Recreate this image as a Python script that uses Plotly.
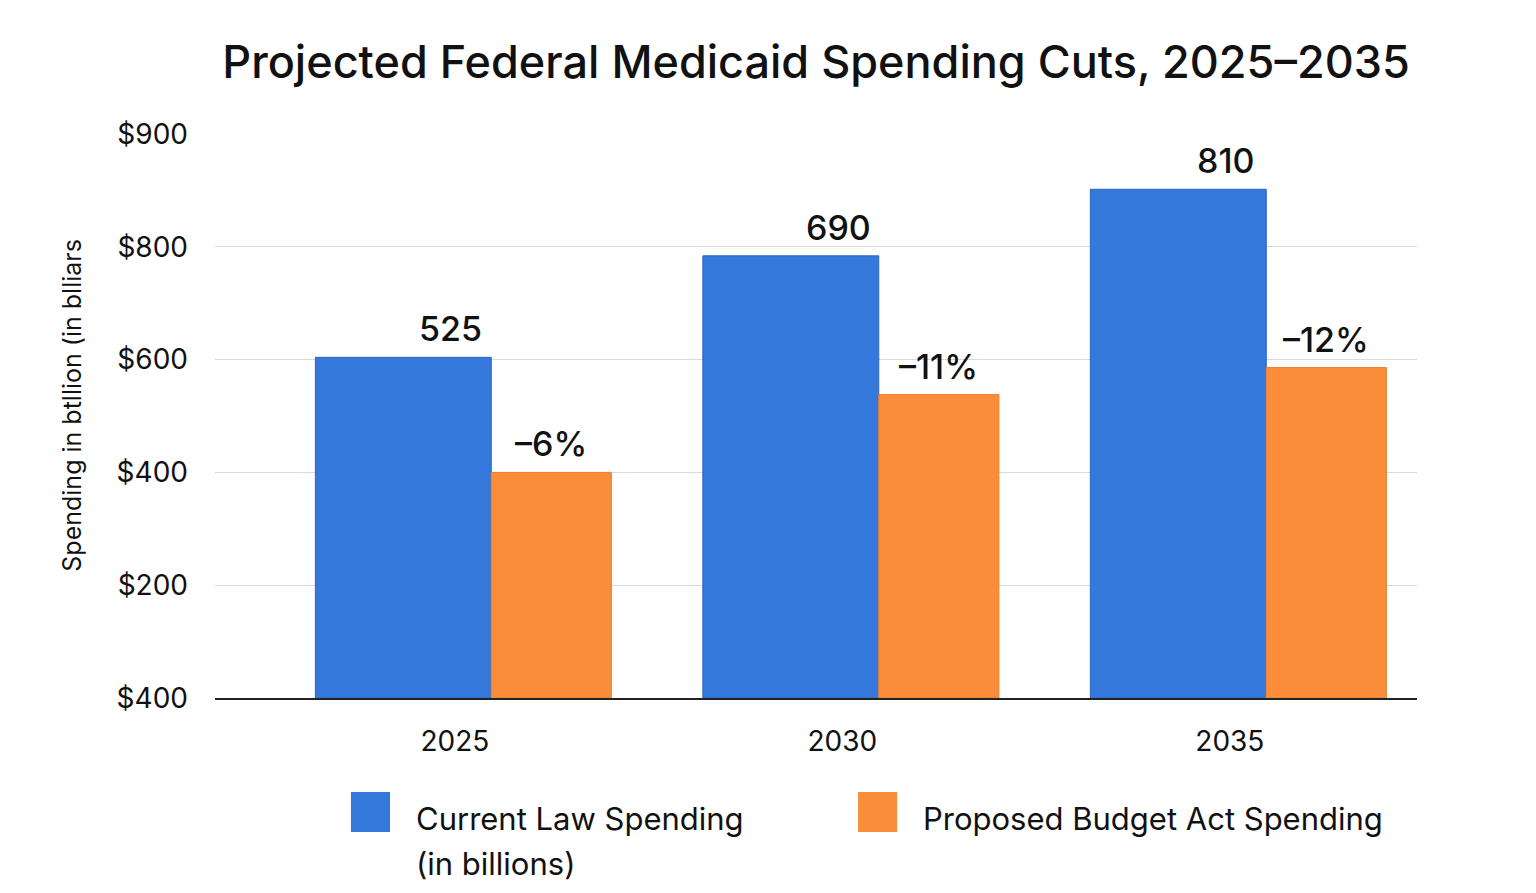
import plotly.graph_objects as go

# data (bar heights are read in the chart's own gridline units: one gridline = 100)
years = ["2025", "2030", "2035"]
current_law = [302, 392, 451]
proposed = [200, 269, 293]
current_labels = ["525", "690", "810"]
proposed_labels = ["\u20136%", "\u201311%", "\u201312%"]
tick_pos = [0, 100, 200, 300, 400, 500]
tick_text = ["$400", "$200", "$400", "$600", "$800", "$900"]

BLUE = "#3478DC"
ORANGE = "#F98D3A"
FONT = "Inter"
x = list(range(len(years)))

blue_off, blue_w = -0.36, 0.454
orange_off, orange_w = 0.094, 0.31

fig = go.Figure()
fig.add_trace(go.Bar(x=x, y=current_law, name="Current Law Spending (in billions)",
                     offset=blue_off, width=blue_w, marker_color=BLUE,
                     marker_line=dict(color="#2a66c4", width=1)))
fig.add_trace(go.Bar(x=x, y=proposed, name="Proposed Budget Act Spending",
                     offset=orange_off, width=orange_w, marker_color=ORANGE,
                     marker_line=dict(color="#ee8030", width=1)))

# value labels
for i in x:
    fig.add_annotation(x=i - 0.01, y=current_law[i], text=current_labels[i], showarrow=False,
                       yanchor="bottom", yshift=6,
                       font=dict(size=34, color="#111", family=FONT, weight=500))
    fig.add_annotation(x=i + orange_off + orange_w / 2, y=proposed[i], text=proposed_labels[i],
                       showarrow=False, yanchor="bottom", yshift=6,
                       font=dict(size=34, color="#111", family=FONT, weight=500))

# y axis title
fig.add_annotation(xref="paper", yref="paper", x=-0.119, y=0.52, xanchor="center", yanchor="middle",
                   text="Spending in btllion (in blliars", textangle=-90, showarrow=False,
                   font=dict(size=25, color="#111", family=FONT))

# legend drawn by hand (large swatches)
legend = [(0.1131, BLUE, 0.1656, ["Current Law Spending", "(in billions)"]),
          (0.535, ORANGE, 0.5874, ["Proposed Budget Act Spending"])]
for sx, col, tx, lines in legend:
    fig.add_shape(type="rect", xref="paper", yref="paper", x0=sx, x1=sx + 0.0325,
                  y0=-0.1667, y1=-0.2376, fillcolor=col, line=dict(width=0))
    for k, line in enumerate(lines):
        fig.add_annotation(xref="paper", yref="paper", x=tx, y=-0.2128 - k * 0.08, text=line,
                           xanchor="left", yanchor="middle", showarrow=False,
                           font=dict(size=31, color="#111", family=FONT))

fig.update_layout(
    width=1536, height=893,
    margin=dict(l=207, r=127, t=126, b=203),
    paper_bgcolor="white", plot_bgcolor="white",
    showlegend=False, barmode="overlay",
    title=dict(text="Projected Federal Medicaid Spending Cuts, 2025\u20132035", x=0.5, xref="paper",
               xanchor="center", y=1 - 54 / 893, yref="container", yanchor="middle",
               font=dict(size=45, color="#111", family=FONT, weight=500)),
    font=dict(family=FONT, color="#111"),
)
fig.update_xaxes(range=[-0.619, 2.483], tickvals=x, ticktext=years, showgrid=False,
                 showline=True, linecolor="#222", linewidth=2, ticks="",
                 ticklabelstandoff=17, tickfont=dict(size=28, color="#111"))
fig.update_yaxes(range=[0, 500], tickvals=tick_pos, ticktext=tick_text, showgrid=True,
                 gridcolor="#d9d9d9", gridwidth=1, zeroline=False, showline=False,
                 ticklabelstandoff=26, tickfont=dict(size=28, color="#111"))

fig.write_html("out.html")
